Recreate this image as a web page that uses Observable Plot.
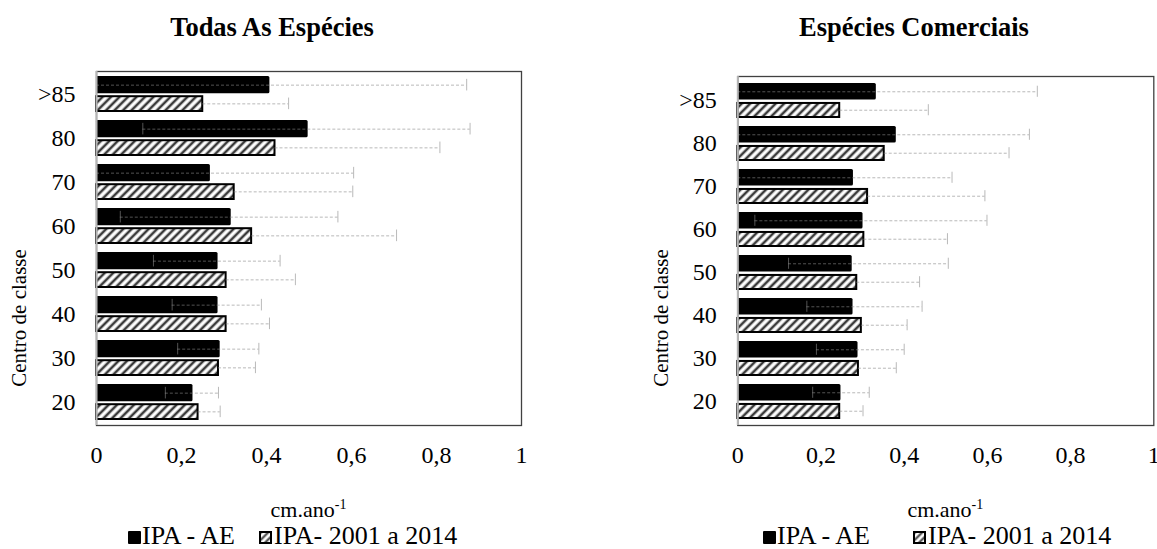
<!DOCTYPE html>
<html><head><meta charset="utf-8">
<script src="https://cdn.jsdelivr.net/npm/d3@7"></script>
<script src="https://cdn.jsdelivr.net/npm/@observablehq/plot@0.6"></script>
<style>
body{margin:0;background:#fff;}
#root{position:relative;width:1157px;height:549px;overflow:hidden;font-family:"Liberation Serif","Times New Roman",serif;color:#000;background:#fff;}
.abs{position:absolute;white-space:nowrap;}
.title{font-weight:bold;font-size:26.5px;line-height:26px;text-align:center;width:500px;}
.ylab{font-size:21px;line-height:21px;transform:translate(-50%,-50%) rotate(-90deg);}
.xlab{font-size:22px;line-height:18px;transform:translateX(-50%);}
.xlab sup{font-size:14px;line-height:0;vertical-align:baseline;position:relative;top:-8px;}
.leg{font-size:26px;line-height:20px;}
.sw{position:absolute;width:13px;height:13px;box-sizing:border-box;}
</style></head><body><div id="root"></div>
<script>
// ---- data ----
const classes = [">85", "80", "70", "60", "50", "40", "30", "20"];
const xTicks = [0, 0.2, 0.4, 0.6, 0.8, 1];
const seriesNames = ["IPA - AE", "IPA- 2001 a 2014"];

// Todas As Espécies
const aeAll    = [0.408, 0.498, 0.268, 0.317, 0.286, 0.286, 0.291, 0.227];
const aeAllHi  = [0.871, 0.879, 0.605, 0.568, 0.432, 0.388, 0.382, 0.287];
const aeAllLo  = [-0.055, 0.109, -0.069, 0.056, 0.134, 0.178, 0.191, 0.162];
const histAll  = [0.250, 0.420, 0.324, 0.365, 0.305, 0.305, 0.287, 0.239];
const histAllHi= [0.452, 0.808, 0.603, 0.706, 0.468, 0.407, 0.374, 0.291];

// Espécies Comerciais
const aeCom    = [0.333, 0.381, 0.278, 0.301, 0.275, 0.277, 0.289, 0.248];
const aeComHi  = [0.720, 0.701, 0.515, 0.599, 0.506, 0.443, 0.400, 0.316];
const aeComLo  = [-0.054, -0.020, -0.020, 0.041, 0.122, 0.166, 0.189, 0.180];
const histCom  = [0.245, 0.352, 0.312, 0.303, 0.286, 0.297, 0.290, 0.245];
const histComHi= [0.458, 0.652, 0.594, 0.504, 0.437, 0.407, 0.381, 0.301];

const root = document.getElementById("root");
const FONT = '"Liberation Serif","Times New Roman",serif';

function makeChart(cfg) {
  const rows = classes.map((c, i) => ({
    cls: c, ae: cfg.ae[i], aeHi: cfg.aeHi[i], aeLo: cfg.aeLo[i],
    hist: cfg.hist[i], histHi: cfg.histHi[i]
  }));
  const H = 549, mB = cfg.mB;
  const pi = 0.2, po = 0.1;
  const innerH = H - cfg.mT - mB;
  const step = innerH / (classes.length - pi + 2 * po);
  const bw = step * (1 - pi);
  const half = bw / 2;
  const cA = bw / 4, cB = 3 * bw / 4, tl = 6;
  const err = {stroke: "#8a8a8a", strokeOpacity: 0.6, strokeWidth: 1};
  const svg = Plot.plot({
    width: cfg.width, height: H,
    marginTop: cfg.mT, marginBottom: mB, marginLeft: cfg.mL, marginRight: cfg.mR,
    style: {fontFamily: FONT, fontSize: "24px", color: "#000", background: "transparent", overflow: "visible"},
    x: {domain: [0, 1]},
    y: {domain: classes, paddingInner: pi, paddingOuter: po},
    marks: [
      Plot.axisX({ticks: xTicks, tickFormat: d => String(d).replace(".", ","), tickSize: 0, tickPadding: 20, label: null}),
      Plot.axisY({tickSize: 0, tickPadding: cfg.yPad, label: null}),
      Plot.barX(rows, {x: "ae", y: "cls", fill: "#000", insetBottom: half, rx: 1.5}),
      Plot.barX(rows, {x: "hist", y: "cls", fill: `url(#${cfg.hatchId})`, stroke: "#000", strokeWidth: 2, insetTop: half + 2.5, insetBottom: 0}),
      Plot.ruleY(rows, {y: "cls", x1: d => Math.max(0, d.aeLo), x2: "aeHi", dy: -bw / 4, ...err, strokeDasharray: "3,2"}),
      Plot.ruleY(rows, {y: "cls", x1: "hist", x2: "histHi", dy: bw / 4 + 1, ...err, strokeDasharray: "3,2"}),
      Plot.tickX(rows, {x: "aeHi", y: "cls", insetTop: cA - tl, insetBottom: bw - cA - tl, ...err}),
      Plot.tickX(rows.filter(d => d.aeLo > 0), {x: "aeLo", y: "cls", insetTop: cA - tl, insetBottom: bw - cA - tl, ...err}),
      Plot.tickX(rows, {x: "histHi", y: "cls", insetTop: cB - tl + 1, insetBottom: bw - cB - tl - 1, ...err}),
      Plot.frame({stroke: "#404040", strokeWidth: 1.3}),
      Plot.ruleX([0], {stroke: "#b5b5b5", strokeWidth: 2})
    ]
  });
  d3.select(svg).insert("defs", ":first-child").html(
    `<pattern id="${cfg.hatchId}" patternUnits="userSpaceOnUse" width="6" height="6" patternTransform="rotate(45)">` +
    `<rect width="6" height="6" fill="#fff"/><line x1="3" y1="-1" x2="3" y2="7" stroke="#3a3a3a" stroke-width="2.6"/></pattern>`);
  svg.style.position = "absolute";
  svg.style.left = cfg.left + "px";
  svg.style.top = "0px";
  root.appendChild(svg);

  const frameMid = cfg.left + cfg.mL + (cfg.width - cfg.mL - cfg.mR) / 2;
  const add = (html, cls, css) => {
    const d = document.createElement("div");
    d.className = "abs " + cls;
    Object.assign(d.style, css);
    d.innerHTML = html;
    root.appendChild(d);
    return d;
  };
  add(cfg.title, "title", {left: (cfg.titleX - 250) + "px", top: "14px"});
  add("Centro de classe", "ylab", {left: cfg.ylabX + "px", top: "318px"});
  add("cm.ano<sup>-1</sup>", "xlab", {left: frameMid + "px", top: "501px"});
  // legend
  const sw1 = document.createElement("div");
  sw1.className = "sw";
  Object.assign(sw1.style, {left: cfg.legX + "px", top: "531px", background: "#000", borderRadius: "1px"});
  root.appendChild(sw1);
  add(seriesNames[0], "leg", {left: (cfg.legX + 14) + "px", top: "526px"});
  const sw2 = document.createElementNS("http://www.w3.org/2000/svg", "svg");
  sw2.setAttribute("width", 13); sw2.setAttribute("height", 13);
  sw2.style.position = "absolute";
  sw2.style.left = cfg.legX2 + "px"; sw2.style.top = "531px";
  sw2.innerHTML = `<defs><pattern id="${cfg.hatchId}L" patternUnits="userSpaceOnUse" width="5" height="5" patternTransform="rotate(45)"><rect width="5" height="5" fill="#fff"/><line x1="2.5" y1="-1" x2="2.5" y2="6" stroke="#3a3a3a" stroke-width="2"/></pattern></defs>` +
    `<rect x="1" y="1" width="11" height="11" fill="url(#${cfg.hatchId}L)" stroke="#000" stroke-width="2"/>`;
  root.appendChild(sw2);
  add(seriesNames[1], "leg", {left: (cfg.legX2 + 15) + "px", top: "526px"});
}

makeChart({
  title: "Todas As Espécies", titleX: 272, ylabX: 19,
  ae: aeAll, aeHi: aeAllHi, aeLo: aeAllLo, hist: histAll, histHi: histAllHi,
  left: 0, width: 578, mL: 96, mR: 57, mT: 71, mB: 124, yPad: 21, hatchId: "hatchA",
  legX: 128, legX2: 259
});
makeChart({
  title: "Espécies Comerciais", titleX: 914, ylabX: 661,
  ae: aeCom, aeHi: aeComHi, aeLo: aeComLo, hist: histCom, histHi: histComHi,
  left: 578, width: 579, mL: 159.3, mR: 3.7, mT: 76, mB: 124, yPad: 21, hatchId: "hatchB",
  legX: 763, legX2: 913
});
</script></body></html>
